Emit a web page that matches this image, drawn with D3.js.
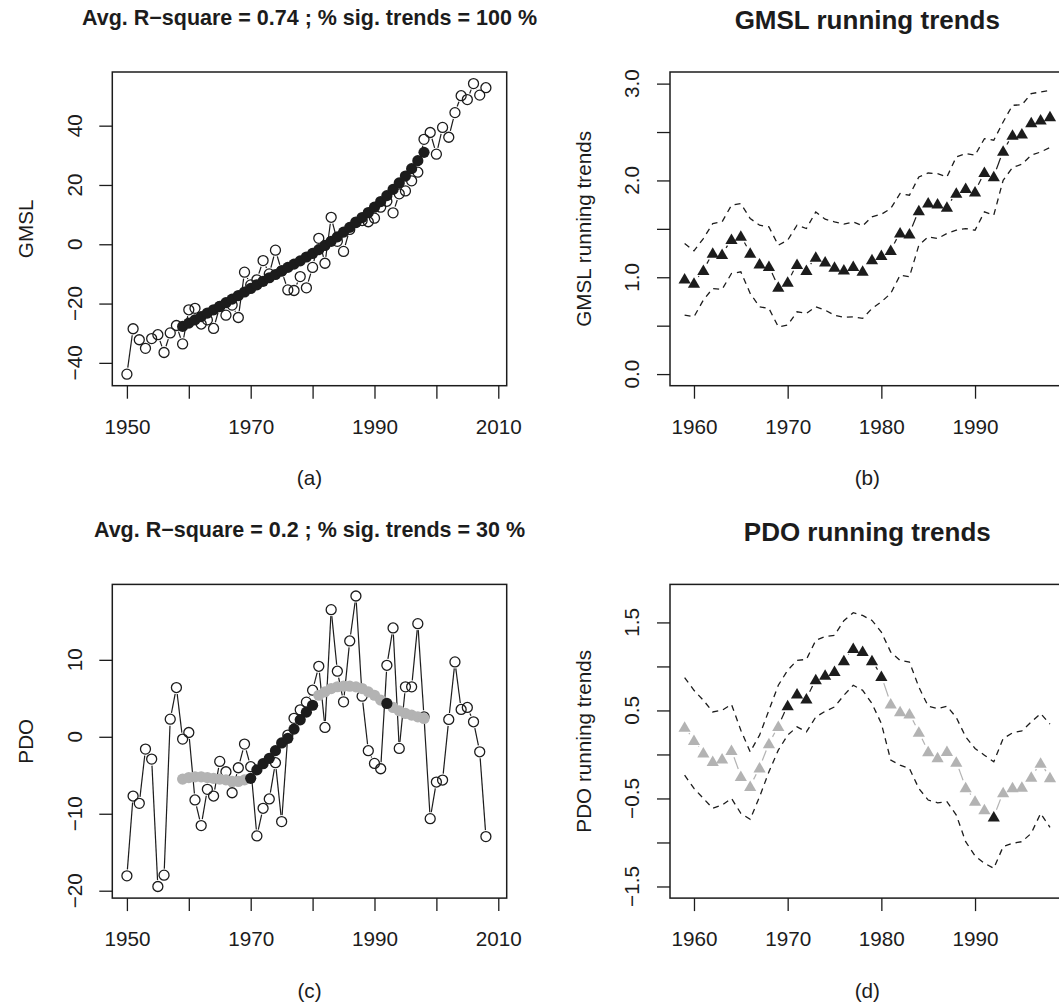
<!DOCTYPE html>
<html>
<head>
<meta charset="utf-8">
<script src="https://cdn.jsdelivr.net/npm/d3@7"></script>
<style>
  html, body { margin: 0; padding: 0; background: #fff; }
  svg { display: block; font-family: "Liberation Sans", Arial, Helvetica, sans-serif; }
</style>
</head>
<body>
<svg id="chart" width="1059" height="1006"></svg>
<script>
// ---------------- DATA ----------------
const obsYears = [1950,1951,1952,1953,1954,1955,1956,1957,1958,1959,1960,1961,1962,1963,1964,1965,1966,1967,1968,1969,
  1970,1971,1972,1973,1974,1975,1976,1977,1978,1979,1980,1981,1982,1983,1984,1985,1986,1987,1988,1989,
  1990,1991,1992,1993,1994,1995,1996,1997,1998,1999,2000,2001,2002,2003,2004,2005,2006,2007,2008];
const trendYears = [1959,1960,1961,1962,1963,1964,1965,1966,1967,1968,1969,1970,1971,1972,1973,1974,1975,1976,1977,1978,
  1979,1980,1981,1982,1983,1984,1985,1986,1987,1988,1989,1990,1991,1992,1993,1994,1995,1996,1997,1998];

// GMSL annual values (open circles)
const gmslObs = [-43.8,-28.5,-32.2,-35.1,-31.8,-30.5,-36.5,-29.9,-27.4,-33.6,-22.1,-21.6,-26.9,-25.5,-28.4,-21.0,-23.9,-20.5,-24.7,-9.4,
  -13.7,-12.0,-5.5,-10.0,-2.0,-9.0,-15.4,-15.6,-10.9,-14.7,-7.8,2.0,-6.4,9.1,1.0,-2.4,5.0,7.5,8.0,7.6,
  8.8,12.5,14.5,10.6,17.0,18.0,21.4,24.3,35.4,37.7,30.4,39.4,36.1,44.4,50.1,48.8,54.2,50.3,52.8];
// GMSL fitted values (filled circles)
const gmslFit = [-27.7,-26.6,-25.5,-24.4,-23.2,-22.1,-20.9,-19.7,-18.5,-17.3,-16.1,-14.9,-13.7,-12.5,-11.3,-10.2,-9.0,-7.8,-6.7,-5.6,
  -4.3,-3.1,-1.8,-0.4,1.0,2.5,4.1,5.7,7.3,9.0,10.7,12.5,14.4,16.4,18.5,20.7,23.0,25.5,28.2,31.0];
// GMSL running trends and confidence bounds
const gmslTrend = [0.987,0.942,1.073,1.252,1.238,1.393,1.427,1.252,1.142,1.115,0.901,0.953,1.135,1.073,1.211,1.162,1.107,1.080,1.115,1.066,
  1.184,1.228,1.280,1.462,1.452,1.692,1.772,1.761,1.727,1.871,1.920,1.885,2.085,2.043,2.305,2.470,2.484,2.601,2.628,2.663];
const gmslUpper = [1.349,1.272,1.400,1.555,1.572,1.744,1.761,1.607,1.538,1.520,1.331,1.383,1.538,1.503,1.675,1.600,1.572,1.548,1.572,1.531,
  1.624,1.651,1.710,1.865,1.847,2.036,2.077,2.070,2.036,2.243,2.278,2.260,2.432,2.415,2.604,2.776,2.781,2.897,2.913,2.930];
const gmslLower = [0.609,0.592,0.764,0.884,0.874,1.039,1.056,0.833,0.695,0.678,0.488,0.506,0.643,0.626,0.695,0.660,0.609,0.585,0.592,0.575,
  0.678,0.746,0.833,1.022,1.005,1.331,1.417,1.400,1.452,1.486,1.503,1.486,1.675,1.641,2.002,2.133,2.167,2.260,2.294,2.340];
const gmslSig = [1,1,1,1,1,1,1,1,1,1,1,1,1,1,1,1,1,1,1,1,1,1,1,1,1,1,1,1,1,1,1,1,1,1,1,1,1,1,1,1];

// PDO annual values (open circles)
const pdoObs = [-18.07,-7.70,-8.65,-1.60,-2.90,-19.45,-17.98,2.29,6.40,-0.30,0.56,-8.21,-11.54,-6.83,-7.70,-3.20,-4.54,-7.27,-4.02,-0.95,
  -3.89,-12.88,-9.29,-8.08,-3.37,-11.02,0.22,2.40,3.50,4.50,6.05,9.16,1.21,16.52,8.52,4.54,12.45,18.29,5.28,-1.81,
  -3.46,-4.15,9.29,14.14,-1.51,6.49,6.49,14.70,2.60,-10.64,-5.88,-5.62,2.25,9.73,3.55,3.81,1.95,-1.95,-12.97];
// PDO fitted values (filled circles)
const pdoFit = [-5.5,-5.3,-5.2,-5.2,-5.3,-5.4,-5.5,-5.6,-5.8,-5.8,-5.6,-5.4,-4.3,-3.5,-2.8,-1.8,-0.8,-0.2,1.0,2.2,
  3.2,4.1,5.4,5.84,6.27,6.5,6.57,6.57,6.49,6.27,5.84,5.4,4.76,4.33,3.81,3.38,3.03,2.81,2.6,2.38];
// PDO running trends and confidence bounds
const pdoTrend = [0.313,0.162,0.022,-0.076,-0.046,0.049,-0.246,-0.359,-0.148,0.125,0.321,0.559,0.691,0.635,0.854,0.903,0.948,1.069,1.209,1.175,
  1.069,0.891,0.578,0.491,0.465,0.256,0.034,-0.034,0.037,-0.084,-0.374,-0.526,-0.624,-0.707,-0.431,-0.374,-0.367,-0.254,-0.095,-0.261];
const pdoUpper = [0.873,0.729,0.616,0.483,0.502,0.570,0.276,0.030,0.219,0.502,0.786,0.956,1.069,1.080,1.296,1.340,1.353,1.520,1.610,1.579,
  1.523,1.390,1.163,1.069,1.050,0.766,0.548,0.522,0.548,0.420,0.200,0.068,-0.008,-0.084,0.181,0.245,0.268,0.370,0.465,0.344];
const pdoLower = [-0.235,-0.386,-0.499,-0.612,-0.575,-0.499,-0.669,-0.737,-0.481,-0.197,0.049,0.219,0.313,0.256,0.426,0.490,0.540,0.672,0.786,0.729,
  0.578,0.351,-0.065,-0.121,-0.159,-0.386,-0.518,-0.549,-0.537,-0.688,-0.991,-1.153,-1.236,-1.293,-1.048,-1.009,-0.991,-0.896,-0.669,-0.828];
const pdoSig = [0,0,0,0,0,0,0,0,0,0,0,1,1,1,1,1,1,1,1,1,1,1,0,0,0,0,0,0,0,0,0,0,0,1,0,0,0,0,0,0];

// Text
const titles = ["Avg. R\u2212square = 0.74 ; % sig. trends = 100 %", "GMSL running trends",
                "Avg. R\u2212square = 0.2 ; % sig. trends = 30 %", "PDO running trends"];
const yTitles = ["GMSL", "GMSL running trends", "PDO", "PDO running trends"];
const subLabels = ["(a)", "(b)", "(c)", "(d)"];
const obsXTicks = [1950,1960,1970,1980,1990,2000,2010];
const obsXLabels = ["1950","","1970","","1990","","2010"];
const trendXTicks = [1960,1970,1980,1990];
const trendXLabels = ["1960","1970","1980","1990"];
const gmslYTicks = [-40,-20,0,20,40];
const gmslYLabels = ["\u221240","\u221220","0","20","40"];
const gmslTrendYTicks = [0,0.5,1,1.5,2,2.5,3];
const gmslTrendYLabels = ["0.0","","1.0","","2.0","","3.0"];
const pdoYTicks = [-20,-10,0,10];
const pdoYLabels = ["\u221220","\u221210","0","10"];
const pdoTrendYTicks = [-1.5,-1,-0.5,0,0.5,1,1.5];
const pdoTrendYLabels = ["\u22121.5","","\u22120.5","","0.5","","1.5"];

// ---------------- DRAWING ----------------
const svg = d3.select("#chart");
const INK = "#1c1c1c";
const GREY = "#b3b3b3";
const FS = 20.7;

function segmentsWithGap(g, pts, gap, colorFn, width) {
  for (let i = 1; i < pts.length; i++) {
    const [x0, y0] = pts[i - 1], [x1, y1] = pts[i];
    const dx = x1 - x0, dy = y1 - y0, L = Math.hypot(dx, dy);
    if (L <= 2 * gap) continue;
    const ux = dx / L, uy = dy / L;
    g.append("line")
      .attr("x1", x0 + ux * gap).attr("y1", y0 + uy * gap)
      .attr("x2", x1 - ux * gap).attr("y2", y1 - uy * gap)
      .attr("stroke", colorFn(i)).attr("stroke-width", width);
  }
}

function panel(cfg) {
  const { left, right, top, bottom, xDom, yDom } = cfg;
  const x = d3.scaleLinear().domain(xDom).range([left, right]);
  const y = d3.scaleLinear().domain(yDom).range([bottom, top]);
  const g = svg.append("g");

  // x axis
  const xa = g.append("g").attr("transform", `translate(0,${bottom})`)
    .call(d3.axisBottom(x).tickValues(cfg.xTicks).tickSize(13).tickPadding(20.5)
      .tickFormat((d, i) => cfg.xLabels[i]));
  xa.select(".domain").remove();
  xa.selectAll(".tick line").attr("stroke", INK).attr("stroke-width", 1.3);
  xa.selectAll(".tick text").attr("font-size", FS).attr("fill", INK)
    .attr("font-family", "Liberation Sans, Arial, sans-serif");

  // y axis (ticks only; labels rotated like R)
  const ya = g.append("g").attr("transform", `translate(${left},0)`)
    .call(d3.axisLeft(y).tickValues(cfg.yTicks).tickSize(13).tickFormat(""));
  ya.select(".domain").remove();
  ya.selectAll(".tick line").attr("stroke", INK).attr("stroke-width", 1.3);
  cfg.yTicks.forEach((v, i) => {
    if (!cfg.yLabels[i]) return;
    g.append("text")
      .attr("transform", `translate(${left - 30.6},${y(v)}) rotate(-90)`)
      .attr("text-anchor", "middle").attr("font-size", FS).attr("fill", INK)
      .text(cfg.yLabels[i]);
  });

  // box
  g.append("rect").attr("x", left).attr("y", top)
    .attr("width", right - left).attr("height", bottom - top)
    .attr("fill", "none").attr("stroke", INK).attr("stroke-width", 1.5);

  // titles and labels
  const cx = (left + right) / 2;
  g.append("text").attr("x", cx).attr("y", top + cfg.titleDy)
    .attr("text-anchor", "middle").attr("font-weight", "bold")
    .attr("font-size", cfg.titleSize).attr("fill", INK).text(cfg.title);
  g.append("text")
    .attr("transform", `translate(${left - 79},${(top + bottom) / 2}) rotate(-90)`)
    .attr("text-anchor", "middle").attr("font-size", FS).attr("fill", INK).text(cfg.yTitle);
  g.append("text").attr("x", cx).attr("y", bottom + 99.5)
    .attr("text-anchor", "middle").attr("font-size", FS).attr("fill", INK).text(cfg.sub);

  cfg.draw(g, x, y);
}

function drawObsPanel(obs, fit, sig) {
  return (g, x, y) => {
    const pts = obs.map((v, i) => [x(obsYears[i]), y(v)]);
    segmentsWithGap(g, pts, 6.5, () => INK, 1.2);
    g.selectAll(null).data(obs).enter().append("circle")
      .attr("cx", (d, i) => x(obsYears[i])).attr("cy", d => y(d)).attr("r", 5)
      .attr("fill", "none").attr("stroke", INK).attr("stroke-width", 1.3);
    const fitPts = fit.map((v, i) => ({ yr: trendYears[i], v, s: sig[i] }));
    const order = fitPts.filter(p => !p.s).concat(fitPts.filter(p => p.s));
    g.selectAll(null).data(order).enter().append("circle")
      .attr("cx", d => x(d.yr)).attr("cy", d => y(d.v)).attr("r", 5.6)
      .attr("fill", d => d.s ? INK : GREY);
  };
}

function drawTrendPanel(trend, upper, lower, sig) {
  return (g, x, y) => {
    const line = d3.line().x((d, i) => x(trendYears[i])).y(d => y(d));
    [upper, lower].forEach(arr => {
      g.append("path").attr("d", line(arr)).attr("fill", "none")
        .attr("stroke", INK).attr("stroke-width", 1.3).attr("stroke-dasharray", "6,5");
    });
    const pts = trend.map((v, i) => [x(trendYears[i]), y(v)]);
    segmentsWithGap(g, pts, 7.5, i => sig[i] ? INK : GREY, 1.2);
    g.selectAll(null).data(trend).enter().append("path")
      .attr("d", (d, i) => {
        const cx = x(trendYears[i]), cy = y(d);
        return `M${cx},${cy - 5.6}L${cx + 6.1},${cy + 4.9}L${cx - 6.1},${cy + 4.9}Z`;
      })
      .attr("fill", (d, i) => sig[i] ? INK : GREY);
  };
}

const rowOff = 512.4;
panel({ left: 112.3, right: 506.7, top: 72, bottom: 385.7, xDom: [1947.64, 2011.36], yDom: [-47.7, 58.1],
  xTicks: obsXTicks, xLabels: obsXLabels, yTicks: gmslYTicks, yLabels: gmslYLabels,
  title: titles[0], titleSize: 21.5, titleDy: -47, yTitle: yTitles[0], sub: subLabels[0],
  draw: drawObsPanel(gmslObs, gmslFit, gmslSig) });
panel({ left: 670, right: 1064.6, top: 72, bottom: 385.7, xDom: [1957.44, 1999.56], yDom: [-0.12, 3.12],
  xTicks: trendXTicks, xLabels: trendXLabels, yTicks: gmslTrendYTicks, yLabels: gmslTrendYLabels,
  title: titles[1], titleSize: 26, titleDy: -43, yTitle: yTitles[1], sub: subLabels[1],
  draw: drawTrendPanel(gmslTrend, gmslUpper, gmslLower, gmslSig) });
panel({ left: 112.3, right: 506.7, top: 72 + rowOff, bottom: 385.7 + rowOff, xDom: [1947.64, 2011.36], yDom: [-20.96, 19.8],
  xTicks: obsXTicks, xLabels: obsXLabels, yTicks: pdoYTicks, yLabels: pdoYLabels,
  title: titles[2], titleSize: 21.5, titleDy: -47, yTitle: yTitles[2], sub: subLabels[2],
  draw: drawObsPanel(pdoObs, pdoFit, pdoSig) });
panel({ left: 670, right: 1064.6, top: 72 + rowOff, bottom: 385.7 + rowOff, xDom: [1957.44, 1999.56], yDom: [-1.632, 1.932],
  xTicks: trendXTicks, xLabels: trendXLabels, yTicks: pdoTrendYTicks, yLabels: pdoTrendYLabels,
  title: titles[3], titleSize: 26, titleDy: -43, yTitle: yTitles[3], sub: subLabels[3],
  draw: drawTrendPanel(pdoTrend, pdoUpper, pdoLower, pdoSig) });
</script>
</body>
</html>
